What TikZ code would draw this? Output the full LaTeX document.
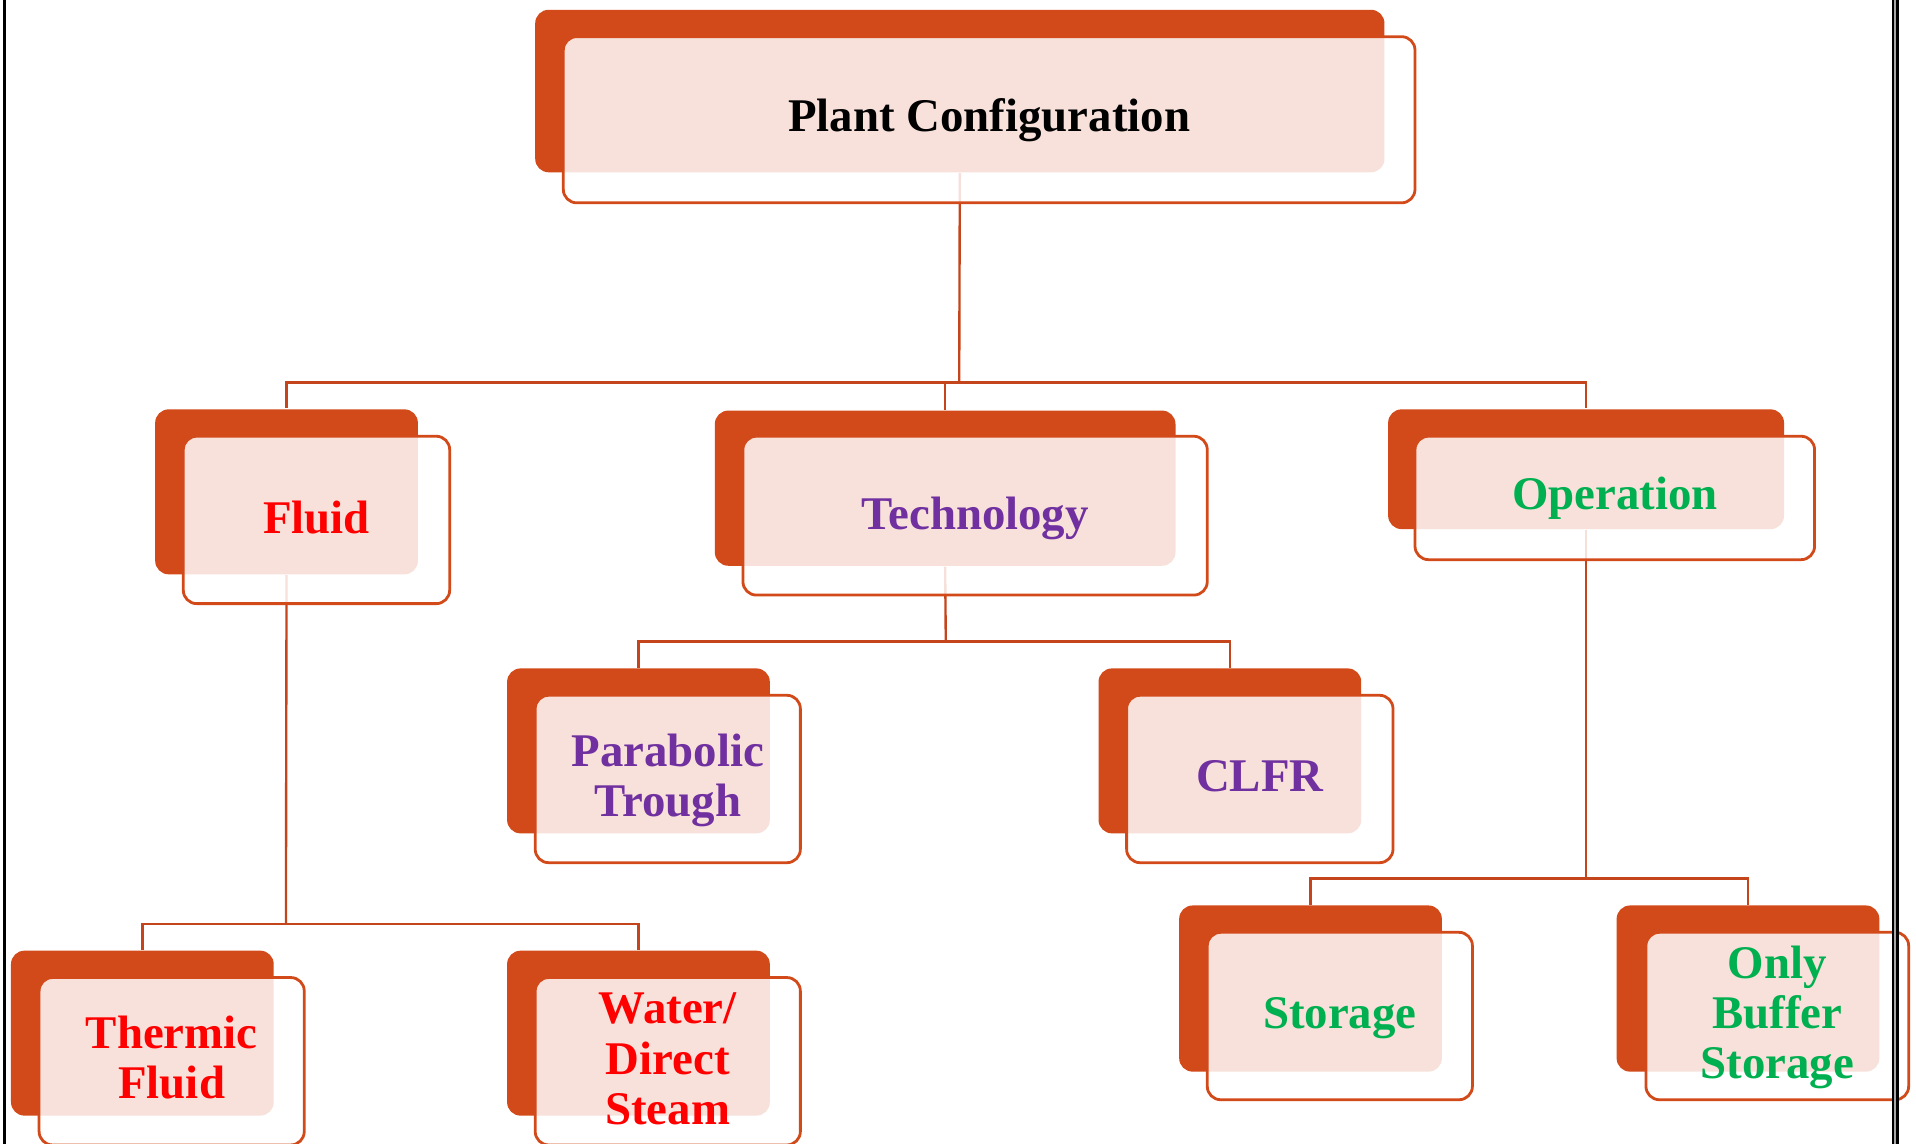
\documentclass[tikz,border=0pt]{standalone}
\usepackage{fontspec}
\setmainfont{Liberation Serif}
\usetikzlibrary{fit}
\definecolor{rust}{HTML}{D24A19}
\definecolor{wire}{HTML}{C4451C}
\definecolor{txtred}{HTML}{FF0000}
\definecolor{txtpurple}{HTML}{7030A0}
\definecolor{txtgreen}{HTML}{00B050}
\definecolor{framegray}{HTML}{A8A8A8}
\pgfdeclarelayer{wires}
\pgfsetlayers{wires,main}
\tikzset{
  backbox/.style={fill=rust, draw=none, rounded corners=0.11cm, inner sep=0pt},
  frontbox/.style={fill=white, fill opacity=0.84, draw=rust, line width=0.65pt,
                   rounded corners=0.11cm, inner sep=0pt},
  lbl/.style={font=\fontsize{10.9}{11.7}\selectfont\bfseries, align=center, inner sep=0pt},
  conn/.style={draw=wire, line width=0.55pt},
}
% a card: solid back panel plus translucent front panel
\newcommand\card[9]{%
  \node[backbox, fit={(#2,#3) (#4,#5)}] (#1B) {};
  \node[frontbox, fit={(#6,#7) (#8,#9)}] (#1F) {};
}
\begin{document}
\begin{tikzpicture}[x=0.01cm, y=-0.01cm]
\useasboundingbox (0,0) rectangle (1568,936);

% cards
\card{top}{438}{8}{1133}{141}{461}{30}{1158}{166}
\card{fluid}{127}{335}{342}{470}{150}{357}{368}{494}
\card{tech}{585}{336}{962}{463}{608}{357}{988}{487}
\card{oper}{1136}{335}{1460}{433}{1158}{357}{1485}{458}
\card{para}{415}{547}{630}{682}{438}{569}{655}{706}
\card{clfr}{899}{547}{1114}{682}{922}{569}{1140}{706}
\card{therm}{9}{778}{224}{913}{32}{800}{249}{937}
\card{water}{415}{778}{630}{913}{438}{800}{655}{937}
\card{stor}{965}{741}{1180}{877}{988}{763}{1205}{900}
\card{buff}{1323}{741}{1538}{877}{1347}{763}{1562}{900}

% labels
\node[lbl, text=black] (topT) at (topF.center) {Plant Configuration};
\node[lbl, text=txtred] (fluidT) at ([yshift=0.02cm]fluidF.center) {Fluid};
\node[lbl, text=txtpurple] (techT) at ([yshift=-0.02cm]techF.center) {Technology};
\node[lbl, text=txtgreen] (operT) at (operF.center) {Operation};
\node[lbl, text=txtpurple] (paraT) at ([yshift=-0.01cm]paraF.center) {Parabolic\\Trough};
\node[lbl, text=txtpurple] (clfrT) at ([yshift=0.02cm]clfrF.center) {CLFR};
\node[lbl, text=txtred] (thermT) at ([yshift=0.03cm]thermF.center) {Thermic\\Fluid};
\node[lbl, text=txtred] (waterT) at ([yshift=0.02cm]waterF.center) {Water/\\Direct\\Steam};
\node[lbl, text=txtgreen] (storT) at ([yshift=-0.02cm]storF.center) {Storage};
\node[lbl, text=txtgreen] (buffT) at ([yshift=-0.01cm]buffF.center) {Only\\Buffer\\Storage};

% connectors, behind the cards
\coordinate (j1) at (785,313);
\coordinate (j2) at (234,756);
\coordinate (j3) at (774,525);
\coordinate (j4) at (1298,719);
\begin{pgfonlayer}{wires}
  \draw[conn] (topB.south) -- (j1);
  \draw[conn] (j1) -| (fluidB.north);
  \draw[conn] (j1) -| (techB.north);
  \draw[conn] (j1) -| (operB.north);
  \draw[conn] (fluidB.south) -- (j2);
  \draw[conn] (j2) -| (thermB.north);
  \draw[conn] (j2) -| (waterB.north);
  \draw[conn] (techB.south) -- (j3);
  \draw[conn] (j3) -| (paraB.north);
  \draw[conn] (j3) -| (clfrB.north);
  \draw[conn] (operB.south) -- (j4);
  \draw[conn] (j4) -| (storB.north);
  \draw[conn] (j4) -| (buffB.north);
\end{pgfonlayer}

% page frame
\draw[black, line width=0.7pt] (3.8,0) -- (3.8,936);
\draw[black, line width=1.6pt] (1551,0) -- (1551,936);
\draw[framegray, line width=0.5pt] (1551,0) -- (1551,936);
\end{tikzpicture}
\end{document}
